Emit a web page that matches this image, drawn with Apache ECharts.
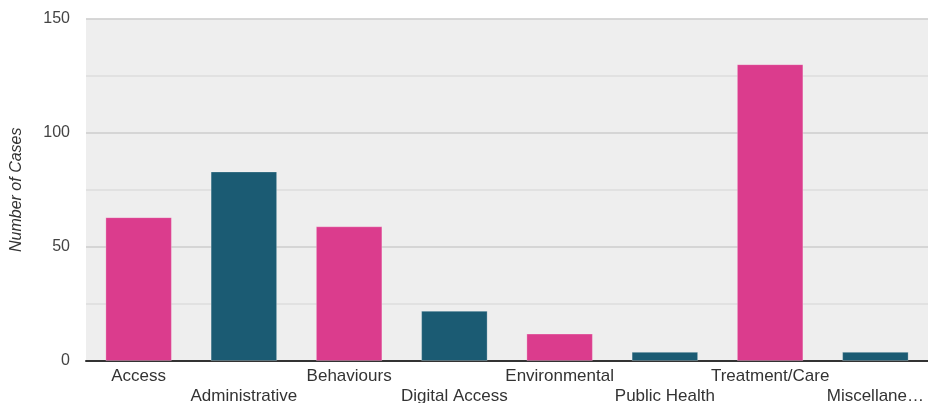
<!DOCTYPE html>
<html>
<head>
<meta charset="utf-8">
<script src="https://cdn.jsdelivr.net/npm/echarts@6/dist/echarts.min.js"></script>
<style>html,body{margin:0;padding:0;background:#fff;}#c{width:928px;height:403px;}</style>
</head>
<body>
<div id="c"></div>
<script>
const categories = ["Access","Administrative","Behaviours","Digital Access","Environmental","Public Health","Treatment/Care","Miscellaneous"];
const values = [63, 83, 59, 22, 12, 4, 130, 4];
const barColors = ["#DB3C8D","#1B5B73"];
const yTicks = [0, 50, 100, 150];

const chart = echarts.init(document.getElementById('c'));
chart.setOption({
  animation: false,
  grid: {left: 86, right: 0, top: 18.5, bottom: 42, show: true, backgroundColor: '#eeeeee', borderWidth: 0, containLabel: false, outerBoundsMode: 'none'},
  xAxis: {
    type: 'category',
    data: categories,
    axisLine: {lineStyle: {color: '#333', width: 2}},
    axisTick: {show: false},
    axisLabel: {
      interval: 0,
      color: '#333',
      fontSize: 17,
      fontFamily: 'Liberation Sans, Arial, sans-serif',
      margin: 5,
      lineHeight: 20,
      hideOverlap: false,
      formatter: function (v, i) {
        let t = v;
        if (i === categories.length - 1 && v.length > 10) t = v.slice(0, 10) + '\u2026';
        return i % 2 ? '\n' + t : t;
      }
    }
  },
  yAxis: {
    type: 'value',
    min: yTicks[0],
    max: yTicks[yTicks.length - 1],
    interval: 50,
    name: 'Number of Cases',
    nameLocation: 'middle',
    nameGap: 61,
    nameTextStyle: {fontStyle: 'italic', fontSize: 16, color: '#333', fontFamily: 'Liberation Sans, Arial, sans-serif'},
    axisLine: {show: false},
    axisTick: {show: false},
    axisLabel: {color: '#444', fontSize: 16, margin: 16, fontFamily: 'Liberation Sans, Arial, sans-serif'},
    splitLine: {lineStyle: {color: '#cccccc', width: 1.5}},
    minorTick: {show: false, splitNumber: 2},
    minorSplitLine: {show: true, lineStyle: {color: '#dddddd', width: 1.5}}
  },
  series: [{
    type: 'bar',
    barWidth: 66.5,
    data: values.map((v, i) => ({value: v, itemStyle: {color: barColors[i % 2], borderColor: 'rgba(255,255,255,0.25)', borderWidth: 1}}))
  }]
});
</script>
</body>
</html>
